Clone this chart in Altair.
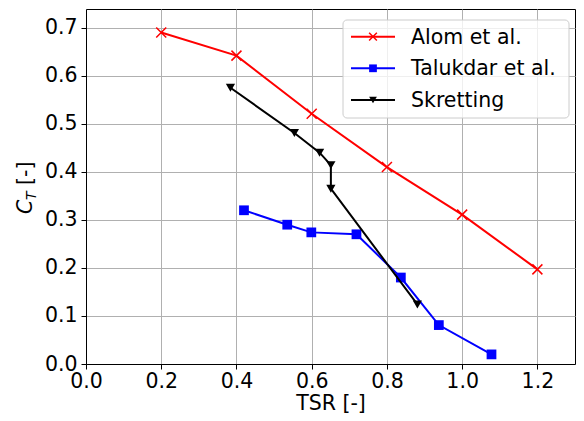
import altair as alt
import pandas as pd

# ---- data ----
alom_tsr = [0.2, 0.4, 0.6, 0.8, 1.0, 1.2]
alom_ct = [0.690, 0.642, 0.521, 0.410, 0.311, 0.197]
tal_tsr = [0.42, 0.535, 0.599, 0.719, 0.837, 0.938, 1.078]
tal_ct = [0.320, 0.290, 0.274, 0.270, 0.180, 0.081, 0.020]
skr_tsr = [0.384, 0.554, 0.621, 0.651, 0.651, 0.881]
skr_ct = [0.575, 0.481, 0.440, 0.414, 0.365, 0.124]

series_names = ["Alom et al.", "Talukdar et al.", "Skretting"]
x_ticks = [0.0, 0.2, 0.4, 0.6, 0.8, 1.0, 1.2]
y_ticks = [0.0, 0.1, 0.2, 0.3, 0.4, 0.5, 0.6, 0.7]

FONT = "DejaVu Sans"
FS = 20.5
X_SHAPE = "M-1,-1L1,1M-1,1L1,-1"

def frame(xs, ys):
    return pd.DataFrame({"tsr": xs, "ct": ys, "idx": list(range(len(xs)))})

xenc = alt.X("tsr:Q", scale=alt.Scale(domain=[0, 1.3], nice=False, zero=False),
             axis=alt.Axis(values=x_ticks, format=".1f", title="TSR [-]", labelPadding=2,
                           labelFlush=False, titleBaseline="alphabetic", titleY=45))
yenc = alt.Y("ct:Q", scale=alt.Scale(domain=[0, 0.739], nice=False, zero=False),
             axis=alt.Axis(values=y_ticks, format=".1f", title=None, labelFlush=False))

def series(df, color, shape, size, filled, sw):
    base = alt.Chart(df)
    line = base.mark_line(color=color, strokeWidth=2).encode(x=xenc, y=yenc, order="idx:Q")
    pts = base.mark_point(shape=shape, size=size, filled=filled, color=color,
                          opacity=1, strokeWidth=sw).encode(x=xenc, y=yenc)
    return [line, pts]

layers = []
layers += series(frame(alom_tsr, alom_ct), "#ff0000", X_SHAPE, 100, False, 1.5)
layers += series(frame(tal_tsr, tal_ct), "#0000ff", "square", 95, True, 0)
layers += series(frame(skr_tsr, skr_ct), "#000000", "triangle-down", 85, True, 0)

one = alt.Data(values=[{}])

# ---- legend (drawn manually to mimic line+marker handles) ----
layers.append(alt.Chart(one).mark_rect(fill="white", fillOpacity=0.8, stroke="#cccccc",
                                       strokeWidth=1, cornerRadius=4).encode(
    x=alt.value(257), x2=alt.value(483), y=alt.value(11), y2=alt.value(109)))
leg_rows = [27.7, 59.3, 91]
leg_styles = [("#ff0000", X_SHAPE, 60, False, 1.5),
              ("#0000ff", "square", 60, True, 0),
              ("#000000", "triangle-down", 60, True, 0)]
for name, ry, (col, shp, sz, fl, sw) in zip(series_names, leg_rows, leg_styles):
    layers.append(alt.Chart(one).mark_rule(color=col, strokeWidth=2).encode(
        x=alt.value(265), x2=alt.value(309), y=alt.value(ry)))
    layers.append(alt.Chart(one).mark_point(shape=shp, size=sz, filled=fl, color=col,
                                            opacity=1, strokeWidth=sw).encode(
        x=alt.value(287), y=alt.value(ry)))
    layers.append(alt.Chart(one).mark_text(text=name, font=FONT, fontSize=FS, align="left",
                                           baseline="middle", color="black").encode(
        x=alt.value(325), y=alt.value(ry + 1)))

# ---- y-axis title C_T [-] ----
layers.append(alt.Chart(one).mark_text(text="C", font=FONT, fontSize=FS, fontStyle="italic",
                                       angle=270, align="left", baseline="alphabetic",
                                       color="black").encode(x=alt.value(-54), y=alt.value(205)))
layers.append(alt.Chart(one).mark_text(text="T", font=FONT, fontSize=14, fontStyle="italic",
                                       angle=270, align="left", baseline="alphabetic",
                                       color="black").encode(x=alt.value(-50), y=alt.value(191)))
layers.append(alt.Chart(one).mark_text(text="[-]", font=FONT, fontSize=FS,
                                       angle=270, align="left", baseline="alphabetic",
                                       color="black").encode(x=alt.value(-54), y=alt.value(176)))

chart = alt.layer(*layers).properties(
    width=489, height=355,
    autosize=alt.AutoSizeParams(type="none"),
    padding={"left": 78, "top": 1, "right": 1, "bottom": 49},
).configure_view(stroke="black", strokeWidth=1).configure_axis(
    labelFont=FONT, labelFontSize=FS, labelColor="black",
    titleFont=FONT, titleFontSize=FS, titleFontWeight="normal", titleColor="black",
    domainColor="black", domainWidth=1, tickColor="black", tickSize=5, tickWidth=1,
    labelPadding=4, gridColor="#b0b0b0", gridWidth=1, gridOpacity=1,
)

chart.save("out.html", embed_options={"renderer": "svg", "actions": False})
